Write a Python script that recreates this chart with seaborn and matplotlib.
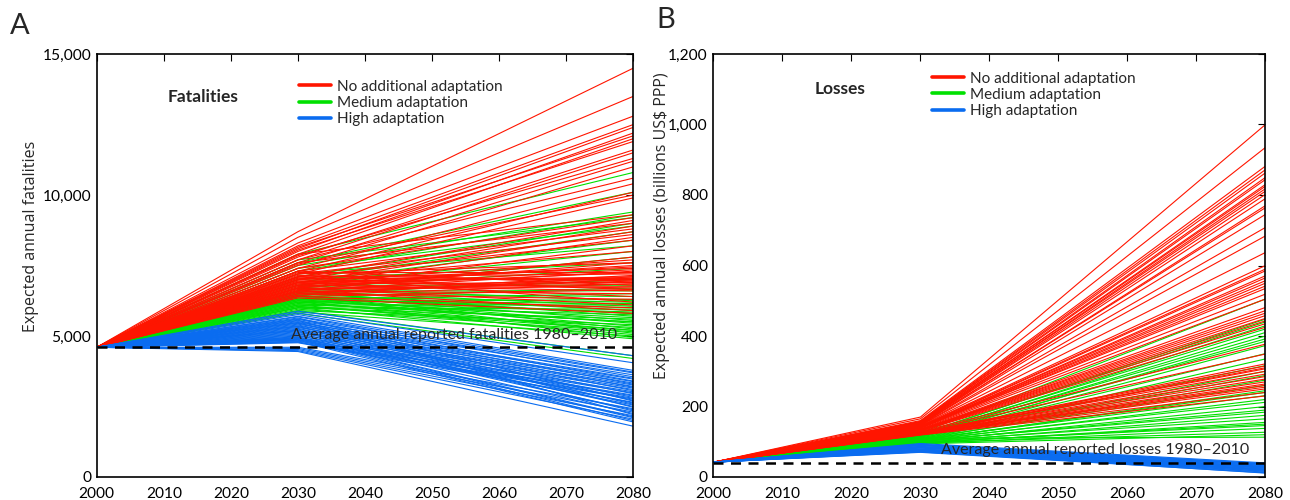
"""Projected fatalities and losses under three adaptation scenarios (panels A and B)."""
import matplotlib.pyplot as plt
import matplotlib.ticker as mticker
from matplotlib.lines import Line2D
import seaborn as sns
import pandas as pd

sns.set_theme(style="white")
plt.rcParams["font.family"] = ["Lato", "DejaVu Sans"]

RED, GREEN, BLUE = "#ff1500", "#00e000", "#0a6cf0"
YEARS = [2000, 2030, 2080]

# ---- Panel A: fatalities (value at 2000 shared by all runs)
fat_start = 4600
fat_reported = 4600
fat_red_2030 = [8700, 8500, 8300, 8200, 8100, 8000, 8150, 7900, 8050, 7800, 7700, 7850, 7600, 7500,
                7700, 7400, 7300, 7550, 7200, 7900, 7400, 7100, 7600, 7000, 7300, 6900, 7200, 6800,
                7100, 6700, 7000, 6600, 6900, 7200, 6800, 7000, 6600, 6750, 7100, 6500, 6900, 6650,
                7050, 6550, 6850, 6450, 7300, 6700, 6950, 6400, 6800, 6600, 6900, 6500, 7100, 6700,
                6400, 6600, 6350, 6750, 6950, 6850, 7150, 6550, 6650, 7250, 6450, 7050, 6700]
fat_red_2080 = [14500, 13500, 12800, 12500, 12400, 12200, 12100, 12000, 11900, 11600, 11500, 11300, 11200, 11000,
                10600, 10400, 10100, 10000, 9900, 9300, 9200, 9100, 9000, 8900, 8800, 8700, 8600, 8500,
                8400, 8200, 8000, 7800, 7700, 7600, 7500, 7400, 7300, 7250, 7200, 7150, 7100, 7050,
                7000, 6950, 6900, 6850, 6800, 6750, 6700, 6650, 6600, 6500, 6400, 6300, 6200, 6100,
                6000, 5900, 5800, 7350, 7050, 7450, 6950, 7000, 6850, 7250, 7100, 6650, 7600]
fat_green_2030 = [7900, 7600, 7500, 7300, 7700, 7100, 7400, 7000, 6900, 7200, 6800, 6600, 7000, 6700,
                  6500, 6800, 6400, 6600, 6300, 6500, 6200, 6700, 6400, 6100, 6600, 6300, 6000, 6500,
                  6200, 6400, 6100, 6550, 6250, 6000, 6450, 6150, 6350, 5900, 6300, 6050, 6450, 6200,
                  5950, 6400, 6100, 5850, 6250, 6000, 5900, 5800, 6150, 6350, 6050, 6250]
fat_green_2080 = [10800, 10100, 9400, 9300, 9200, 9000, 8900, 8700, 8400, 8200, 8000, 7800, 7600, 7400,
                  7000, 6800, 6700, 6600, 6500, 6400, 6300, 6250, 6200, 6100, 6050, 6000, 5950, 5900,
                  5850, 5800, 5750, 5700, 5650, 5600, 5550, 5500, 5450, 5400, 5350, 5300, 5250, 5200,
                  5150, 5100, 5050, 5000, 4950, 4900, 4300, 4200, 5500, 5800, 5200, 6150]
fat_blue_2030 = [5880, 5820, 5760, 5700, 5610, 5540, 5680, 5480, 5420, 5590, 5360, 5300, 5510, 5240,
                 5180, 5450, 5120, 5060, 5390, 5000, 4950, 5330, 4900, 4860, 5270, 4820, 4780, 5210,
                 5640, 4760, 5150, 5340, 4930, 5090, 5470, 4600, 5030, 5200, 4560, 4970, 5560, 4520,
                 4910, 4880, 4480, 4850, 4800, 4450]
fat_blue_2080 = [4300, 4050, 3780, 3720, 3690, 3620, 3550, 3500, 3470, 3400, 3380, 3330, 3290, 3260,
                 3210, 3180, 3150, 3100, 3060, 3020, 2980, 2950, 2900, 2870, 2820, 2790, 2760, 2720,
                 2690, 2650, 2620, 2580, 2550, 2500, 2470, 2420, 2380, 2340, 2300, 2250, 2210, 2170,
                 2130, 2100, 2050, 2000, 1950, 1800]

# ---- Panel B: losses, billions US$ PPP
loss_start = 42
loss_reported = 40
loss_red_2030 = [170, 165, 160, 158, 157, 155, 154, 152, 150, 149, 148, 147, 146, 145, 144, 142, 141,
                 140, 139, 138, 136, 135, 134, 133, 132, 130, 129, 128, 126, 125, 124, 123, 122, 120,
                 156, 153, 151, 150, 148, 143, 141, 140, 139, 134, 133, 131, 127, 126, 124, 123, 121,
                 120, 119, 122, 125]
loss_red_2080 = [1000, 935, 882, 872, 863, 844, 825, 811, 802, 764, 745, 708, 684, 637, 600, 585, 571,
                 557, 542, 519, 505, 481, 472, 458, 443, 425, 377, 349, 321, 307, 292, 278, 264, 250,
                 850, 830, 818, 790, 770, 590, 565, 550, 535, 465, 450, 435, 315, 300, 285, 270, 260,
                 240, 230, 255, 310]
loss_green_2030 = [125, 121, 123, 118, 120, 116, 119, 113, 117, 112, 115, 110, 114, 108, 111, 106, 109,
                   104, 107, 102, 105, 100, 103, 98, 101, 96, 99, 95, 97, 94, 110, 106, 102, 98]
loss_green_2080 = [505, 448, 440, 429, 420, 410, 400, 392, 385, 373, 350, 335, 316, 300, 288, 275, 260,
                   245, 231, 220, 212, 200, 184, 175, 165, 155, 146, 138, 127, 120, 113, 240, 190, 150]
loss_blue_2030 = [95, 93, 92, 90, 89, 87, 86, 85, 83, 82, 80, 79, 78, 76, 75, 74, 72, 71, 70, 91, 84, 77, 73]
loss_blue_2080 = [40, 38, 36, 35, 33, 32, 30, 29, 28, 26, 25, 23, 22, 20, 19, 17, 16, 14, 12, 37, 27, 21, 11]


def runs_frame(start, mid, end):
    rows = []
    for i, (m, e) in enumerate(zip(mid, end)):
        for yr, v in zip(YEARS, [start, m, e]):
            rows.append({"run": i, "year": yr, "value": v})
    return pd.DataFrame(rows)


def draw_panel(ax, start, groups, reported, ylim, yticks, ylabel, ylabel_xy, title, title_xy,
               note, note_xy, legend_anchor):
    for (mid, end), color in groups:
        sns.lineplot(data=runs_frame(start, mid, end), x="year", y="value", units="run",
                     estimator=None, color=color, lw=0.8, ax=ax, legend=False)
    ax.plot([2000, 2080], [reported, reported], color="black", lw=1.8, ls=(0, (4, 3)))
    ax.set_xlim(2000, 2080)
    ax.set_ylim(*ylim)
    ax.set_xticks(range(2000, 2081, 10))
    ax.set_yticks(yticks)
    ax.yaxis.set_major_formatter(mticker.StrMethodFormatter("{x:,.0f}"))
    ax.set_xlabel("")
    ax.set_ylabel(ylabel, fontsize=11.5, family=["Open Sans", "DejaVu Sans"])
    ax.yaxis.set_label_coords(*ylabel_xy)
    ax.tick_params(direction="in", top=True, right=True, length=5, width=0.8,
                   labelsize=11.2, pad=4, colors="black")
    ax.tick_params(axis="x", pad=7)
    for sp in ax.spines.values():
        sp.set_color("black")
        sp.set_linewidth(1.2)
    ax.text(*title_xy, title, transform=ax.transAxes, fontsize=12.5, fontweight="bold",
            ha="center", va="center")
    ax.text(*note_xy, note, fontsize=11.5, ha="left", va="bottom")
    handles = [Line2D([], [], color=c, lw=2.6) for c in (RED, GREEN, BLUE)]
    ax.legend(handles, ["No additional adaptation", "Medium adaptation", "High adaptation"],
              loc="upper left", bbox_to_anchor=legend_anchor, frameon=False, fontsize=11,
              handlelength=2.1, handletextpad=0.4, labelspacing=0.15, borderaxespad=0)


fig = plt.figure(figsize=(12.9, 5.0), dpi=100)
axA = fig.add_axes([0.075, 0.046, 0.416, 0.846])
axB = fig.add_axes([0.553, 0.046, 0.428, 0.846])

draw_panel(axA, fat_start,
           [((fat_green_2030, fat_green_2080), GREEN), ((fat_red_2030, fat_red_2080), RED),
            ((fat_blue_2030, fat_blue_2080), BLUE)],
           fat_reported, (0, 15000), [0, 5000, 10000, 15000], "Expected annual fatalities",
           (-0.108, 0.57), "Fatalities", (0.198, 0.898),
           "Average annual reported fatalities 1980\u20132010", (2029, 4800), (0.366, 0.954))
draw_panel(axB, loss_start,
           [((loss_green_2030, loss_green_2080), GREEN), ((loss_red_2030, loss_red_2080), RED),
            ((loss_blue_2030, loss_blue_2080), BLUE)],
           loss_reported, (0, 1200), range(0, 1201, 200), "Expected annual losses (billions US$ PPP)",
           (-0.079, 0.593), "Losses", (0.23, 0.917),
           "Average annual reported losses 1980\u20132010", (2033, 58), (0.385, 0.973))

fig.text(0.008, 0.975, "A", fontsize=21, va="top", ha="left")
fig.text(0.509, 0.985, "B", fontsize=21, va="top", ha="left")

fig.savefig("out.png", dpi=100)
